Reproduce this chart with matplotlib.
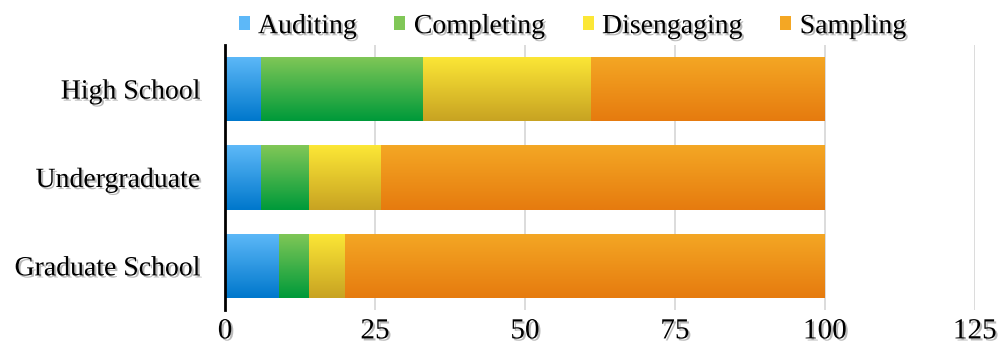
import matplotlib
matplotlib.use("Agg")
import matplotlib.pyplot as plt
import matplotlib.patheffects as pe
import numpy as np
from matplotlib.colors import LinearSegmentedColormap
from matplotlib.patches import Rectangle

# data (percent of learners)
levels = ["High School", "Undergraduate", "Graduate School"]
series = ["Auditing", "Completing", "Disengaging", "Sampling"]
auditing = [6, 6, 9]
completing = [27, 8, 5]
disengaging = [28, 12, 6]
sampling = [39, 74, 80]
x_ticks = [0, 25, 50, 75, 100, 125]

# top / bottom colour of each gradient
grad_colors = {
    "Auditing": ("#5db8f8", "#0078cc"),
    "Completing": ("#80c757", "#009a3a"),
    "Disengaging": ("#fce736", "#c8a322"),
    "Sampling": ("#f4a724", "#e67b0f"),
}

plt.rcParams["font.family"] = ["Liberation Serif", "DejaVu Serif"]
shadow = [pe.SimplePatchShadow(offset=(1.5, -1.5), shadow_rgbFace="#777777", alpha=0.5), pe.Normal()]

fig = plt.figure(figsize=(10.01, 3.56), dpi=100)
ax = fig.add_axes([0.2248, 0.129, 0.749, 0.745])

y = np.arange(len(levels))
bar_h = 0.727
left = np.zeros(len(levels))
grad = np.linspace(0, 1, 64).reshape(-1, 1)
for name, vals in zip(series, [auditing, completing, disengaging, sampling]):
    top, bottom = grad_colors[name]
    cmap = LinearSegmentedColormap.from_list(name, [top, bottom])
    bars = ax.barh(y, vals, left=left, height=bar_h, color="none", edgecolor="none", zorder=2)
    for bar in bars:
        x0, y0 = bar.get_x(), bar.get_y()
        w, h = bar.get_width(), bar.get_height()
        im = ax.imshow(grad, cmap=cmap, aspect="auto", extent=[x0, x0 + w, y0 + h, y0],
                       interpolation="bilinear", zorder=2)
        im.set_clip_path(bar)
    left += np.array(vals)

ax.set_xlim(0, 125)
ax.set_ylim(2.5, -0.5)
ax.set_xticks(x_ticks)
ax.set_yticks(y)
ax.set_yticklabels(levels)
ax.xaxis.grid(True, color="#d9d9d9", linewidth=1.3, zorder=0)
ax.set_axisbelow(True)
for side in ["top", "right", "bottom"]:
    ax.spines[side].set_visible(False)
ax.spines["left"].set_linewidth(2)
ax.spines["left"].set_zorder(5)
ax.tick_params(axis="both", length=0)
ax.tick_params(axis="x", pad=6, labelsize=21)
ax.tick_params(axis="y", pad=18, labelsize=20)
for lbl in ax.get_xticklabels() + ax.get_yticklabels():
    lbl.set_path_effects(shadow)

handles = [Rectangle((0, 0), 1, 1, facecolor=grad_colors[s][0], edgecolor="none") for s in series]
leg = fig.legend(handles, series, loc="center", bbox_to_anchor=(0.572, 0.925), ncol=4,
                 frameon=False, fontsize=20, handlelength=0.4, handleheight=0.4,
                 handletextpad=0.3, columnspacing=1.35, borderpad=0)
for t in leg.get_texts():
    t.set_path_effects(shadow)

fig.savefig("out.png", dpi=100)
